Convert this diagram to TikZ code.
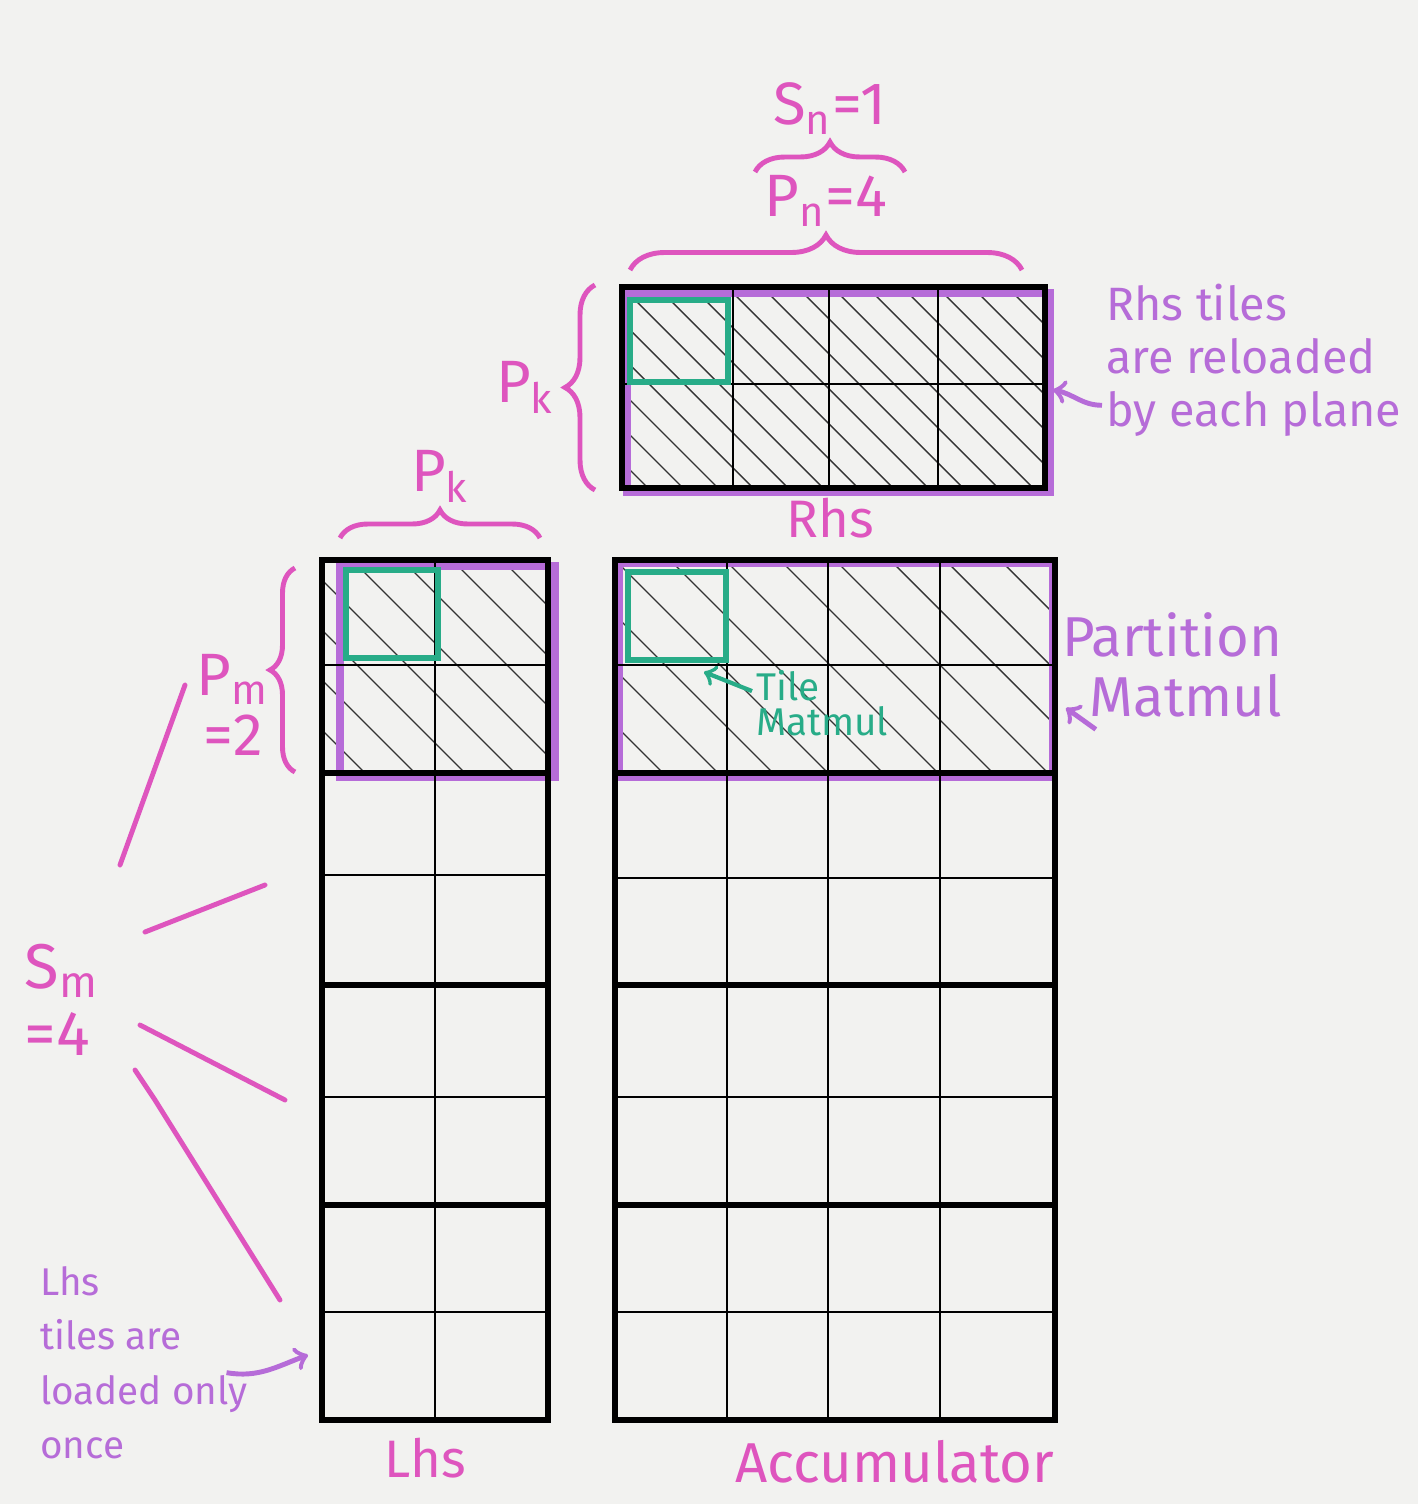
\documentclass[tikz,border=0pt]{standalone}
\usepackage{fontspec}
\setmainfont{Fira Sans}
\usetikzlibrary{decorations.pathreplacing,positioning,calc}
\definecolor{pinkpen}{RGB}{222,85,190}
\definecolor{purplepen}{RGB}{182,108,216}
\definecolor{greenpen}{RGB}{40,172,136}
\definecolor{paper}{RGB}{242,242,240}

\begin{document}
\begin{tikzpicture}[
    grid/.style={black,line width=0.8pt},
    border/.style={black,line width=1.7pt},
    hatch/.style={black!80,line width=0.4pt},
    partbox/.style={purplepen,line width=2.3pt},
    tilebox/.style={greenpen,line width=1.8pt},
    brace/.style={pinkpen,line width=1.4pt,decorate,decoration={brace,amplitude=#1}},
    pinklbl/.style={pinkpen,font=\fontsize{17}{17}\selectfont,inner sep=1pt},
    note/.style={purplepen,align=left,inner sep=1pt}
  ]
                    % paper
                    \fill[paper] (0,0) rectangle (14.18,-15.04);
                    \useasboundingbox (0,0) rectangle (14.18,-15.04);

                    % hatching of the partitions
                    \begin{scope}
                        \clip (6.22,-2.87) rectangle (10.45,-4.88);
                        \foreach \s in {-2.1,-1.75,...,4.3}
                            \draw[hatch] ({6.22+\s},-2.87) -- ++(2.1,-2.1);
                    \end{scope}
                    \begin{scope}
                        \clip (3.22,-5.60) rectangle (5.48,-7.73);
                        \foreach \s in {-2.2,-1.7,...,2.4}
                            \draw[hatch] ({3.22+\s},-5.60) -- ++(2.2,-2.2);
                    \end{scope}
                    \begin{scope}
                        \clip (6.15,-5.60) rectangle (10.55,-7.73);
                        \foreach \s in {-2.2,-1.65,...,4.5}
                            \draw[hatch] ({6.15+\s},-5.60) -- ++(2.2,-2.2);
                    \end{scope}

                    % partition outlines
                    \draw[partbox] (6.27,-2.93) rectangle (10.50,-4.92);
                    \draw[partbox] (3.40,-5.66) rectangle (5.55,-7.77);
                    \draw[partbox] (6.19,-5.63) rectangle (10.53,-7.77);

                    % Rhs
                    \foreach \x in {7.33,8.29,9.38}
                        \draw[grid] (\x,-2.87) -- (\x,-4.88);
                    \draw[grid] (6.22,-3.84) -- (10.45,-3.84);
                    \draw[border] (6.22,-2.87) rectangle (10.45,-4.88);

                    % Lhs
                    \draw[grid] (4.35,-5.60) -- (4.35,-14.20);
                    \foreach \y in {-6.65,-8.75,-10.97,-13.12}
                        \draw[grid] (3.22,\y) -- (5.48,\y);
                    \foreach \y in {-7.73,-9.85,-12.05}
                        \draw[border] (3.22,\y) -- (5.48,\y);
                    \draw[border] (3.22,-5.60) rectangle (5.48,-14.20);

                    % Accumulator
                    \foreach \x in {7.27,8.28,9.40}
                        \draw[grid] (\x,-5.60) -- (\x,-14.20);
                    \foreach \y in {-6.65,-8.78,-10.97,-13.12}
                        \draw[grid] (6.15,\y) -- (10.55,\y);
                    \foreach \y in {-7.73,-9.85,-12.05}
                        \draw[border] (6.15,\y) -- (10.55,\y);
                    \draw[border] (6.15,-5.60) rectangle (10.55,-14.20);

                    % tiles
                    \draw[tilebox] (6.30,-3.00) rectangle (7.28,-3.82);
                    \draw[tilebox] (3.46,-5.70) rectangle (4.38,-6.58);
                    \draw[tilebox] (6.28,-5.72) rectangle (7.26,-6.60);

                    % braces
                    \draw[brace=0.35cm] (6.30,-2.70) -- (10.22,-2.70)
                        node[midway,above=0.38cm,pinklbl] (pn) {P\textsubscript{n}=4};
                    \draw[brace=0.3cm] (7.55,-1.72) -- (9.05,-1.72)
                        node[midway,above=0.32cm,pinklbl] (sn) {S\textsubscript{n}=1};
                    \draw[brace=0.3cm] (5.95,-4.90) -- (5.95,-2.85)
                        node[midway,left=0.35cm,pinklbl] (pkr) {P\textsubscript{k}};
                    \draw[brace=0.28cm] (3.40,-5.38) -- (5.40,-5.38)
                        node[midway,above=0.3cm,pinklbl] (pkl) {P\textsubscript{k}};
                    \draw[brace=0.25cm] (2.95,-7.72) -- (2.95,-5.68)
                        node[midway,left=0.2cm,yshift=-0.35cm,pinklbl,align=center] (pm) {P\textsubscript{m}\\=2};

                    % S_m spokes
                    \node[pinklbl,align=left,font=\fontsize{18}{19}\selectfont] (sm) at (0.62,-10.0) {S\textsubscript{m}\\=4};
                    \draw[pinkpen,line width=1.4pt,line cap=round] (1.20,-8.65) -- (1.85,-6.85);
                    \draw[pinkpen,line width=1.4pt,line cap=round] (1.45,-9.32) -- (2.65,-8.85);
                    \draw[pinkpen,line width=1.4pt,line cap=round] (1.40,-10.25) -- (2.85,-11.00);
                    \draw[pinkpen,line width=1.4pt,line cap=round] (1.35,-10.70) -- (1.55,-11.00) -- (2.80,-13.00);

                    % names
                    \node[pinklbl,font=\fontsize{15}{15}\selectfont] (rhs) at (8.30,-5.18) {Rhs};
                    \node[pinklbl,font=\fontsize{15}{15}\selectfont] (lhs) at (4.25,-14.58) {Lhs};
                    \node[pinklbl,font=\fontsize{16}{16}\selectfont] (acc) at (8.95,-14.62) {Accumulator};

                    % notes
                    \node[note,anchor=north west,font=\fontsize{13.3}{15}\selectfont] (rhsnote) at (11.02,-2.80)
                        {Rhs tiles\\are reloaded\\by each plane};
                    \node[note,align=right,font=\fontsize{16}{17}\selectfont] (partnote) at (11.72,-6.65)
                        {Partition\\Matmul};
                    \node[note,greenpen,anchor=north west,font=\fontsize{11}{10}\selectfont] (tilenote) at (7.52,-6.66)
                        {Tile\\Matmul};
                    \node[note,anchor=north west,font=\fontsize{11}{15.5}\selectfont] (lhsnote) at (0.36,-12.62)
                        {Lhs\\tiles are\\loaded only\\once};

                    \coordinate (rhsedge) at (10.53,-3.90);
                    \coordinate (accedge) at (10.66,-7.08);
                    \coordinate (tilecorner) at (7.04,-6.72);
                    \coordinate (lhsedge) at (3.08,-13.55);
                    \draw[->,purplepen,line width=1.4pt] ([yshift=0.35cm]rhsnote.south west) to[out=180,in=-10] (rhsedge);
                    \draw[->,purplepen,line width=1.4pt] ([xshift=0.38cm,yshift=-0.08cm]partnote.south west) -- (accedge);
                    \draw[->,greenpen,line width=1.2pt] ([yshift=0.12cm]tilenote.west) -- (tilecorner);
                    \draw[->,purplepen,line width=1.4pt] ([xshift=-0.25cm,yshift=-0.1cm]lhsnote.east) to[out=-10,in=200] (lhsedge);
\end{tikzpicture}
\end{document}
